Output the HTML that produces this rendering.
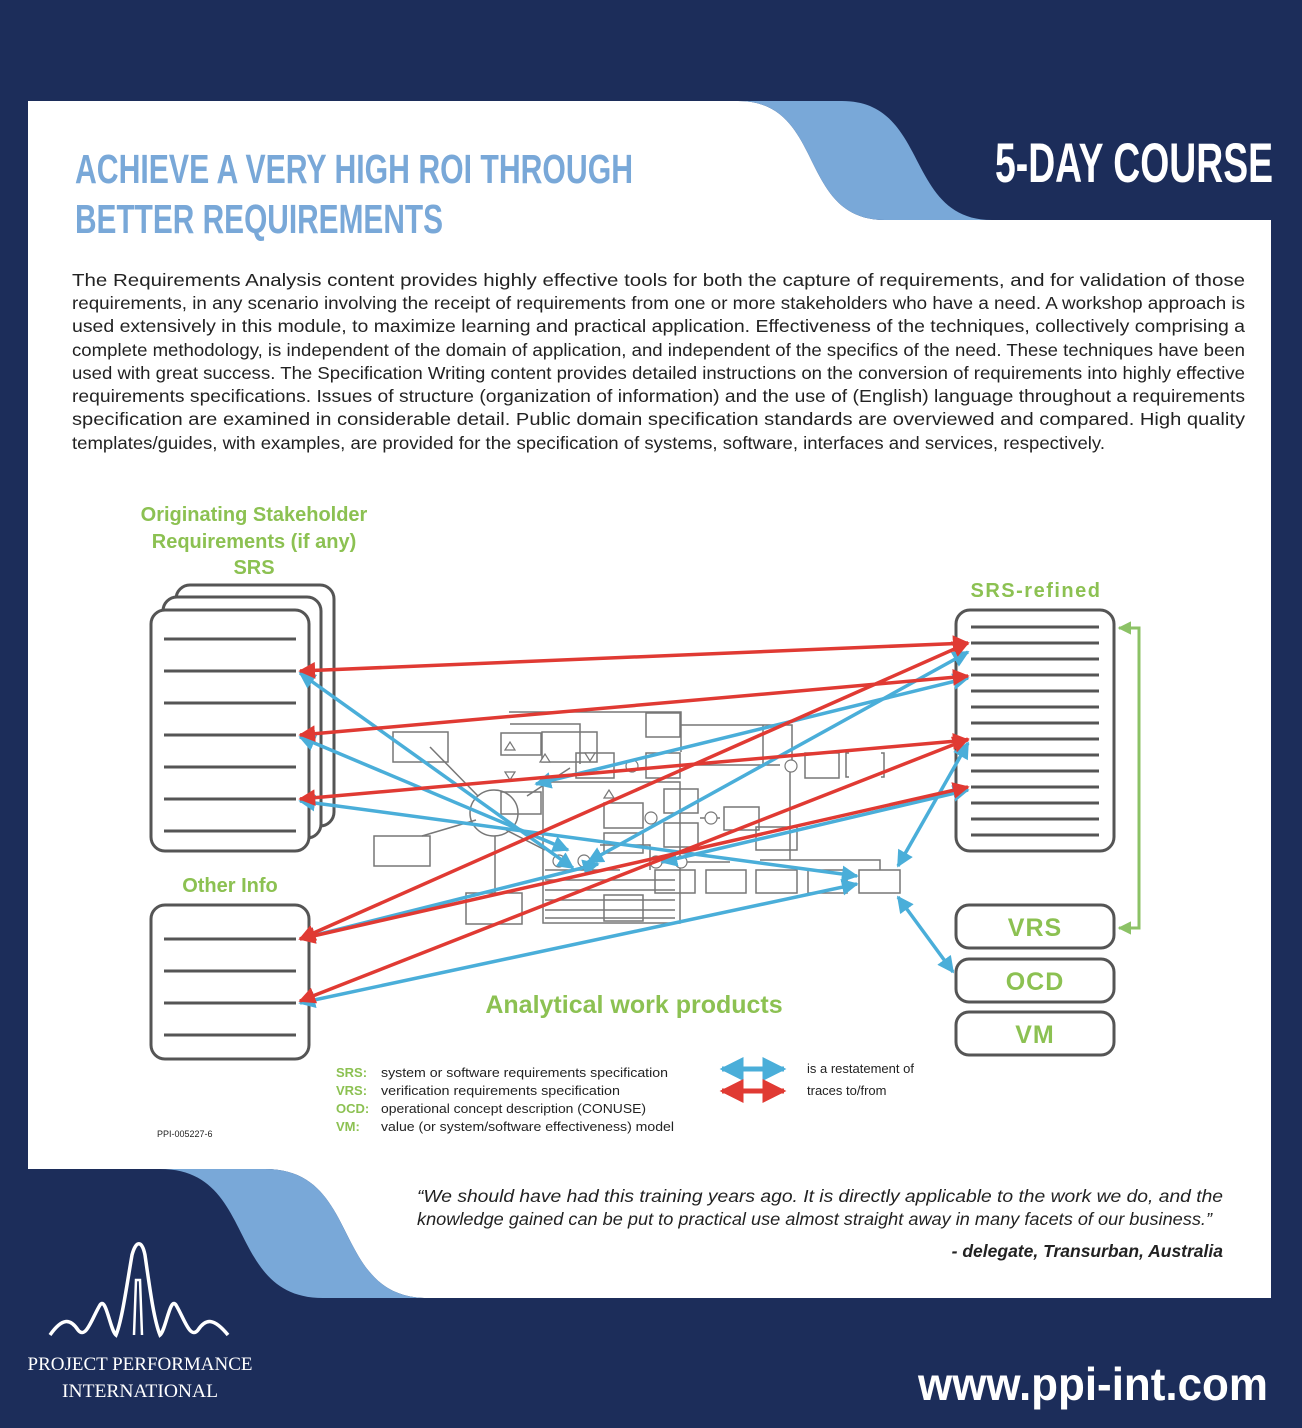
<!DOCTYPE html>
<html><head><meta charset="utf-8"><style>
html,body{margin:0;padding:0;background:#1c2d5a;}
svg{display:block;}
</style></head><body>
<svg width="1302" height="1428" viewBox="0 0 1302 1428" xmlns="http://www.w3.org/2000/svg">
<defs>
<marker id="ar" viewBox="0 0 10 10" refX="9" refY="5" markerWidth="4.8" markerHeight="4.8" orient="auto-start-reverse" markerUnits="strokeWidth"><path d="M0,0 L10,5 L0,10 Z" fill="#e03a33"/></marker>
<marker id="ab" viewBox="0 0 10 10" refX="9" refY="5" markerWidth="4.8" markerHeight="4.8" orient="auto-start-reverse" markerUnits="strokeWidth"><path d="M0,0 L10,5 L0,10 Z" fill="#4aaed9"/></marker>
<marker id="ag" viewBox="0 0 10 10" refX="9" refY="5" markerWidth="4.5" markerHeight="4.5" orient="auto-start-reverse" markerUnits="strokeWidth"><path d="M0,0 L10,5 L0,10 Z" fill="#8cc266"/></marker>
</defs>
<rect width="1302" height="1428" fill="#1c2d5a"/>
<path d="M28,101 L738,101 C826,101 797,220 885,220 L1271,220 L1271,1169 L28,1169 Z" fill="#fff"/>
<path d="M738,101 L842,101 C930,101 904,220 992,220 L885,220 C797,220 826,101 738,101 Z" fill="#79a8d8"/>
<path d="M265,1169 L1271,1169 L1271,1298 L428,1298 C330,1298 363,1169 265,1169 Z" fill="#fff"/>
<path d="M160,1169 L265,1169 C363,1169 330,1298 428,1298 L323,1298 C225,1298 258,1169 160,1169 Z" fill="#79a8d8"/>

<g font-family="'Liberation Sans Narrow','Liberation Sans',sans-serif" font-weight="bold">
<text x="75" y="183" font-size="41" fill="#79a8d8" textLength="558" lengthAdjust="spacingAndGlyphs">ACHIEVE A VERY HIGH ROI THROUGH</text>
<text x="75" y="233" font-size="41" fill="#79a8d8" textLength="368" lengthAdjust="spacingAndGlyphs">BETTER REQUIREMENTS</text>
<text x="995" y="182" font-size="56" fill="#fff" textLength="278" lengthAdjust="spacingAndGlyphs">5-DAY COURSE</text>
</g>

<g font-family="'Liberation Sans',sans-serif" font-size="17.5" fill="#222">
<text x="72" y="286" textLength="1173" lengthAdjust="spacingAndGlyphs">The Requirements Analysis content provides highly effective tools for both the capture of requirements, and for validation of those</text>
<text x="72" y="309" textLength="1173" lengthAdjust="spacingAndGlyphs">requirements, in any scenario involving the receipt of requirements from one or more stakeholders who have a need. A workshop approach is</text>
<text x="72" y="332" textLength="1173" lengthAdjust="spacingAndGlyphs">used extensively in this module, to maximize learning and practical application. Effectiveness of the techniques, collectively comprising a</text>
<text x="72" y="356" textLength="1173" lengthAdjust="spacingAndGlyphs">complete methodology, is independent of the domain of application, and independent of the specifics of the need. These techniques have been</text>
<text x="72" y="379" textLength="1173" lengthAdjust="spacingAndGlyphs">used with great success. The Specification Writing content provides detailed instructions on the conversion of requirements into highly effective</text>
<text x="72" y="402" textLength="1173" lengthAdjust="spacingAndGlyphs">requirements specifications. Issues of structure (organization of information) and the use of (English) language throughout a requirements</text>
<text x="72" y="425" textLength="1173" lengthAdjust="spacingAndGlyphs">specification are examined in considerable detail. Public domain specification standards are overviewed and compared. High quality</text>
<text x="72" y="449" textLength="1033" lengthAdjust="spacingAndGlyphs">templates/guides, with examples, are provided for the specification of systems, software, interfaces and services, respectively.</text>
</g>

<g font-family="'Liberation Sans',sans-serif" font-weight="bold" fill="#8cc152" text-anchor="middle">
<text x="254" y="521" font-size="20">Originating Stakeholder</text>
<text x="254" y="548" font-size="20">Requirements (if any)</text>
<text x="254" y="574" font-size="20">SRS</text>
<text x="1036" y="597" font-size="20" letter-spacing="1.5">SRS-refined</text>
<text x="230" y="892" font-size="20">Other Info</text>
<text x="634" y="1013" font-size="25">Analytical work products</text>
</g>

<g fill="none" stroke="#777" stroke-width="1.5">
<rect x="374" y="836" width="56" height="30"/>
<rect x="466" y="893" width="56" height="31"/>
<rect x="393" y="732" width="55" height="30"/>
<rect x="501" y="733" width="40" height="22"/>
<rect x="542" y="732" width="55" height="30"/>
<rect x="501" y="792" width="40" height="22"/>
<rect x="576" y="753" width="38" height="25"/>
<rect x="646" y="713" width="34" height="24"/>
<rect x="646" y="753" width="34" height="25"/>
<rect x="543" y="782" width="137" height="141"/>
<rect x="604" y="803" width="39" height="25"/>
<rect x="604" y="833" width="39" height="20"/>
<rect x="604" y="895" width="39" height="26"/>
<rect x="664" y="789" width="34" height="24"/>
<rect x="664" y="823" width="34" height="24"/>
<rect x="724" y="807" width="35" height="23"/>
<rect x="756" y="827" width="41" height="23"/>
<rect x="805" y="753" width="34" height="25"/>
<path d="M849,753 h-3 v24 h3 M881,753 h3 v24 h-3"/>
<rect x="655" y="870" width="40" height="23"/>
<rect x="706" y="870" width="40" height="23"/>
<rect x="756" y="870" width="41" height="23"/>
<rect x="808" y="870" width="39" height="23"/>
<rect x="859" y="870" width="41" height="23"/>
<ellipse cx="494" cy="813" rx="24" ry="23"/>
<path d="M509,712 h172 v40 M510,724 h70 v40 M430,747 L478,796 M422,836 L476,820 M506,830 L545,850 M527,796 L570,768 M763,725 v40 M680,725 h112 v35 M680,765 h100 M790,765 v95 M760,860 H880 v10 M620,870 H545 M545,880 h130 M545,890 h130 M545,900 h130 M545,910 h130 M545,918 h130 M495,836 v60 M600,845 h50 v25 M700,818 h20 M650,862 h80"/>
</g>
<g fill="#fff" stroke="#777" stroke-width="1.2">
<circle cx="632" cy="766" r="6"/><circle cx="791" cy="766" r="6"/><circle cx="651" cy="818" r="6"/><circle cx="711" cy="818" r="6"/>
<circle cx="559" cy="861" r="6"/><circle cx="584" cy="861" r="6"/><circle cx="681" cy="862" r="6"/><circle cx="656" cy="862" r="6"/>
<path d="M505,750 l5,-8 l5,8 Z M540,762 l5,-8 l5,8 Z M604,798 l5,-8 l5,8 Z M585,753 l5,8 l5,-8 Z M505,772 l5,8 l5,-8 Z"/>
</g>

<g fill="#fff" stroke="#555" stroke-width="3">
<rect x="176" y="585" width="158" height="241" rx="14"/>
<rect x="163" y="597" width="158" height="241" rx="14"/>
<rect x="151" y="610" width="158" height="241" rx="14"/>
<rect x="151" y="905" width="158" height="154" rx="14"/>
<rect x="956" y="610" width="158" height="241" rx="14"/>
<rect x="956" y="905" width="158" height="43" rx="13"/>
<rect x="956" y="959" width="158" height="43" rx="13"/>
<rect x="956" y="1012" width="158" height="43" rx="13"/>
</g>
<g font-family="'Liberation Sans',sans-serif" font-weight="bold" fill="#8cc152" text-anchor="middle">
<text x="1035" y="936" font-size="25" letter-spacing="1">VRS</text>
<text x="1035" y="990" font-size="25" letter-spacing="1">OCD</text>
<text x="1035" y="1043" font-size="25" letter-spacing="1">VM</text>
</g>
<g stroke="#555" stroke-width="3">
<path d="M164,639h132M164,671h132M164,703h132M164,735h132M164,767h132M164,799h132M164,831h132"/>
<path d="M164,939h132M164,971h132M164,1003h132M164,1035h132"/>
<path d="M971,627h128M971,643h128M971,659h128M971,675h128M971,691h128M971,707h128M971,723h128M971,739h128M971,755h128M971,771h128M971,787h128M971,803h128M971,819h128M971,835h128"/>
</g>
<path d="M1119,628 H1139 V928 H1119" fill="none" stroke="#8cc266" stroke-width="3" marker-start="url(#ag)" marker-end="url(#ag)"/>

<g stroke="#4aaed9" stroke-width="3.5" fill="none" marker-start="url(#ab)" marker-end="url(#ab)">
<line x1="300" y1="673" x2="573" y2="868"/>
<line x1="300" y1="737" x2="568" y2="850"/>
<line x1="300" y1="801" x2="857" y2="876"/>
<line x1="968" y1="678" x2="536" y2="784"/>
<line x1="968" y1="652" x2="588" y2="862"/>
<line x1="300" y1="939" x2="598" y2="864"/>
<line x1="300" y1="1003" x2="857" y2="884"/>
<line x1="968" y1="790" x2="662" y2="862"/>
<line x1="968" y1="743" x2="898" y2="866"/>
<line x1="898" y1="897" x2="953" y2="972"/>
</g>
<g stroke="#e03a33" stroke-width="3.5" fill="none" marker-start="url(#ar)" marker-end="url(#ar)">
<line x1="300" y1="671" x2="968" y2="643"/>
<line x1="300" y1="735" x2="968" y2="676"/>
<line x1="300" y1="799" x2="968" y2="740"/>
<line x1="300" y1="939" x2="968" y2="643"/>
<line x1="300" y1="939" x2="968" y2="787"/>
<line x1="300" y1="1001" x2="968" y2="739"/>
</g>

<g font-family="'Liberation Sans',sans-serif" font-size="13">
<g font-weight="bold" fill="#8cc152">
<text x="336" y="1077">SRS:</text><text x="336" y="1095">VRS:</text><text x="336" y="1113">OCD:</text><text x="336" y="1131">VM:</text>
</g>
<g fill="#222">
<text x="381" y="1077" textLength="287" lengthAdjust="spacingAndGlyphs">system or software requirements specification</text>
<text x="381" y="1095" textLength="239" lengthAdjust="spacingAndGlyphs">verification requirements specification</text>
<text x="381" y="1113" textLength="265" lengthAdjust="spacingAndGlyphs">operational concept description (CONUSE)</text>
<text x="381" y="1131" textLength="293" lengthAdjust="spacingAndGlyphs">value (or system/software effectiveness) model</text>
<text x="807" y="1073">is a restatement of</text>
<text x="807" y="1095">traces to/from</text>
</g>
<text x="157" y="1137" font-size="9" fill="#222">PPI-005227-6</text>
</g>
<line x1="722" y1="1069" x2="784" y2="1069" stroke="#4aaed9" stroke-width="5" marker-start="url(#ab)" marker-end="url(#ab)"/>
<line x1="722" y1="1091" x2="784" y2="1091" stroke="#e03a33" stroke-width="5" marker-start="url(#ar)" marker-end="url(#ar)"/>

<g font-family="'Liberation Sans',sans-serif" font-style="italic" font-size="17.5" fill="#222">
<text x="417" y="1202" textLength="806" lengthAdjust="spacingAndGlyphs">“We should have had this training years ago. It is directly applicable to the work we do, and the</text>
<text x="417" y="1225" textLength="795" lengthAdjust="spacingAndGlyphs">knowledge gained can be put to practical use almost straight away in many facets of our business.”</text>
<text x="1223" y="1257" text-anchor="end" font-weight="bold">- delegate, Transurban, Australia</text>
</g>

<path d="M50,1335 C62,1318 70,1318 78,1330 C86,1340 92,1318 100,1305 C106,1296 110,1330 116,1335 C122,1320 126,1290 132,1255 C136,1240 142,1240 145,1255 C150,1290 154,1320 160,1335 C166,1330 170,1296 176,1305 C184,1318 190,1340 198,1330 C206,1318 214,1318 228,1335" fill="none" stroke="#fff" stroke-width="3.5"/>
<path d="M134,1335 L136,1280 L140,1280 L142,1335" fill="none" stroke="#fff" stroke-width="2.5"/>
<g font-family="'Liberation Serif',serif" fill="#fff" text-anchor="middle">
<text x="140" y="1370" font-size="19" textLength="225" lengthAdjust="spacingAndGlyphs">PROJECT PERFORMANCE</text>
<text x="140" y="1397" font-size="19" textLength="156" lengthAdjust="spacingAndGlyphs">INTERNATIONAL</text>
</g>
<text x="1268" y="1400" text-anchor="end" font-family="'Liberation Sans',sans-serif" font-weight="bold" font-size="46" fill="#fff" textLength="350" lengthAdjust="spacingAndGlyphs">www.ppi-int.com</text>
</svg>
</body></html>
